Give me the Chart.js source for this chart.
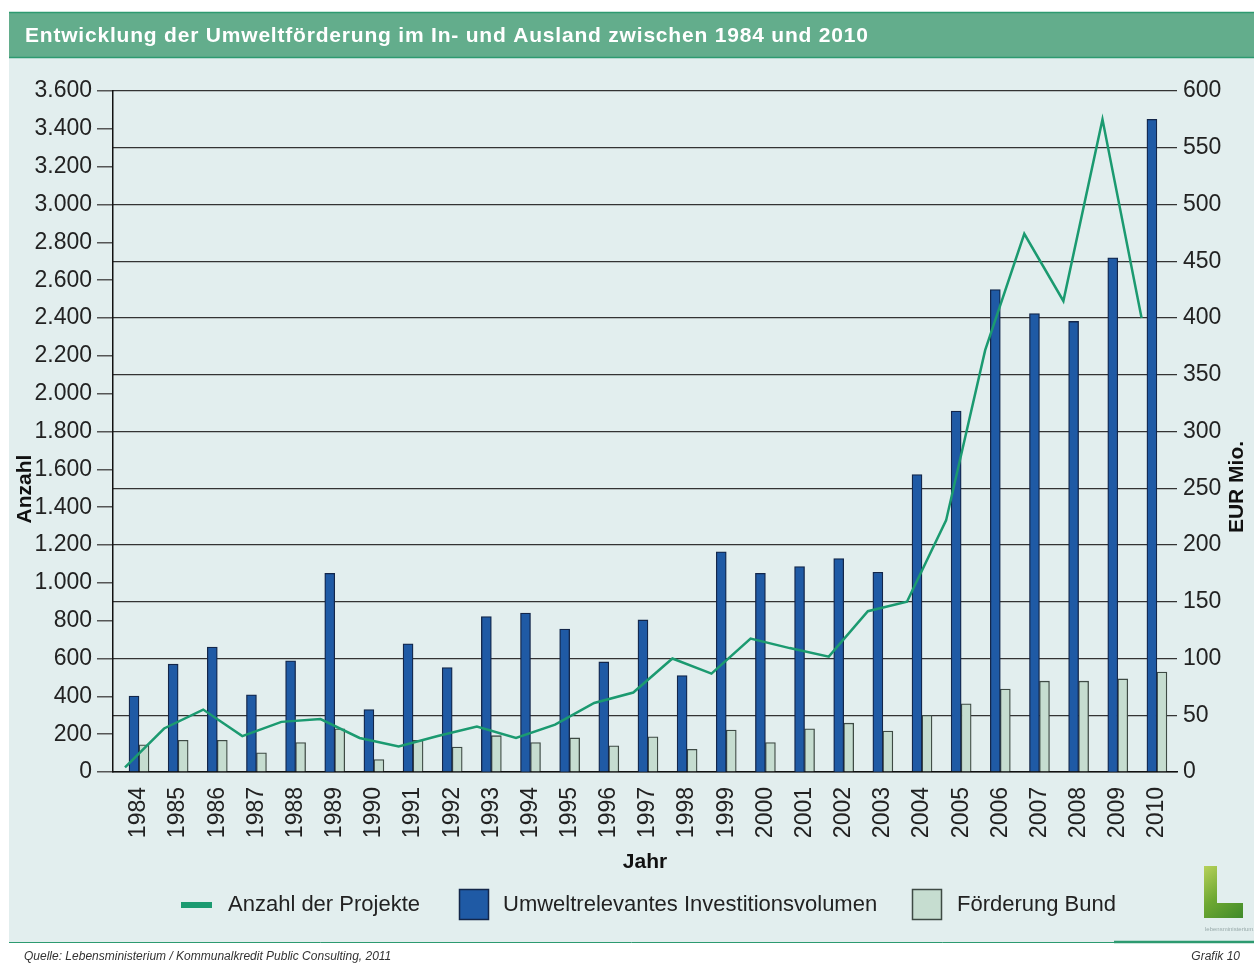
<!DOCTYPE html>
<html>
<head>
<meta charset="utf-8">
<script src="https://cdn.jsdelivr.net/npm/chart.js@4/dist/chart.umd.min.js"></script>
<style>
  html, body { margin: 0; padding: 0; background: #ffffff; }
  #c { display: block; }
</style>
</head>
<body>
<canvas id="c" width="1254" height="963"></canvas>
<script>
// ---- Data ----
const years = ['1984','1985','1986','1987','1988','1989','1990','1991','1992','1993','1994','1995','1996','1997','1998','1999','2000','2001','2002','2003','2004','2005','2006','2007','2008','2009','2010'];
// Anzahl der Projekte (left axis)
const projekte = [25, 230, 330, 190, 265, 280, 180, 135, 190, 240, 180, 250, 365, 420, 600, 520, 705, 655, 610, 850, 900, 1330, 2230, 2845, 2490, 3450, 2400];
// Umweltrelevantes Investitionsvolumen, EUR Mio. (right axis)
const investition = [67, 95, 110, 68, 98, 175, 55, 113, 92, 137, 140, 126, 97, 134, 85, 194, 175, 181, 188, 176, 262, 318, 425, 404, 397, 453, 575];
// Förderung Bund, EUR Mio. (right axis)
const foerderung = [24, 28, 28, 17, 26, 38, 11, 28, 22, 32, 26, 30, 23, 31, 20, 37, 26, 38, 43, 36, 50, 60, 73, 80, 80, 82, 88];

const leftTicks = { min: 0, max: 3600, step: 200 };
const rightTicks = { min: 0, max: 600, step: 50 };

const titleText = 'Entwicklung der Umweltförderung im In- und Ausland zwischen 1984 und 2010';
const labelLine = 'Anzahl der Projekte';
const labelInv = 'Umweltrelevantes Investitionsvolumen';
const labelFoe = 'Förderung Bund';
const sourceText = 'Quelle: Lebensministerium / Kommunalkredit Public Consulting, 2011';
const grafikText = 'Grafik 10';

// ---- Styles ----
const FONT = '"Liberation Sans", Arial, Helvetica, sans-serif';
const C_LINE = '#1b9a70';
const C_BLUE = '#1f5aa5';
const C_BLUE_B = '#13264a';
const C_LGREEN = '#c6ddd0';
const C_LGREEN_B = '#3e4a44';
const C_PANEL = '#e2eeee';
const C_TITLE = '#63ad8c';
const C_TEXT = '#222222';

const pts = (arr) => arr.map((v, i) => ({ x: i, y: v }));
const fmtDE = (v) => String(v).replace(/\B(?=(\d{3})+(?!\d))/g, '.');

const decor = {
  id: 'decor',
  beforeDraw(chart) {
    const ctx = chart.ctx;
    ctx.save();
    ctx.fillStyle = '#ffffff';
    ctx.fillRect(0, 0, chart.width, chart.height);
    // panel
    ctx.fillStyle = C_PANEL;
    ctx.fillRect(9, 58, 1245, 884);
    // title bar
    ctx.fillStyle = C_TITLE;
    ctx.fillRect(9, 12, 1245, 46);
    ctx.strokeStyle = '#2d9a70';
    ctx.lineWidth = 1.5;
    ctx.beginPath();
    ctx.moveTo(9, 12.5); ctx.lineTo(1254, 12.5);
    ctx.moveTo(9, 57.5); ctx.lineTo(1254, 57.5);
    ctx.stroke();
    ctx.fillStyle = '#ffffff';
    ctx.font = 'bold 21px ' + FONT;
    try { ctx.letterSpacing = '0.8px'; } catch (e) {}
    ctx.textBaseline = 'middle';
    ctx.textAlign = 'left';
    ctx.fillText(titleText, 25, 36);
    try { ctx.letterSpacing = '0px'; } catch (e) {}
    ctx.restore();
  },
  afterDraw(chart) {
    const ctx = chart.ctx;
    ctx.save();
    ctx.fillStyle = '#111';
    ctx.font = 'bold 21px ' + FONT;
    ctx.textAlign = 'center';
    ctx.textBaseline = 'middle';
    // left axis title
    ctx.save();
    ctx.translate(25, 489);
    ctx.rotate(-Math.PI / 2);
    ctx.fillText('Anzahl', 0, 0);
    ctx.restore();
    // right axis title
    ctx.save();
    ctx.translate(1237, 487);
    ctx.rotate(-Math.PI / 2);
    ctx.fillText('EUR Mio.', 0, 0);
    ctx.restore();
    // x title
    ctx.fillText('Jahr', 645, 862);

    // legend
    ctx.font = '22px ' + FONT;
    ctx.textAlign = 'left';
    ctx.fillStyle = C_TEXT;
    const ly = 905;
    ctx.strokeStyle = C_LINE;
    ctx.lineWidth = 6;
    ctx.beginPath();
    ctx.moveTo(181, ly); ctx.lineTo(212, ly);
    ctx.stroke();
    ctx.fillText(labelLine, 228, ly);
    ctx.fillStyle = C_BLUE;
    ctx.fillRect(459, 889, 30, 31);
    ctx.strokeStyle = C_BLUE_B; ctx.lineWidth = 1.5;
    ctx.strokeRect(459.5, 889.5, 29, 30);
    ctx.fillStyle = C_TEXT;
    ctx.fillText(labelInv, 503, ly);
    ctx.fillStyle = C_LGREEN;
    ctx.fillRect(912, 889, 30, 31);
    ctx.strokeStyle = C_LGREEN_B; ctx.lineWidth = 1.5;
    ctx.strokeRect(912.5, 889.5, 29, 30);
    ctx.fillStyle = C_TEXT;
    ctx.fillText(labelFoe, 957, ly);

    // logo (approximate)
    const g = ctx.createLinearGradient(1203, 866, 1243, 918);
    g.addColorStop(0, '#b8d25a');
    g.addColorStop(0.5, '#6ea832');
    g.addColorStop(1, '#3f8a2a');
    ctx.fillStyle = g;
    ctx.fillRect(1204, 866, 13, 52);
    ctx.fillRect(1204, 903, 39, 15);
    ctx.fillStyle = '#9aa';
    ctx.font = '6px ' + FONT;
    ctx.fillText('lebensministerium.at', 1205, 929);

    // footer line
    ctx.strokeStyle = '#2d9a70';
    ctx.lineWidth = 1;
    ctx.beginPath();
    ctx.moveTo(9, 942.5); ctx.lineTo(1254, 942.5);
    ctx.stroke();
    ctx.lineWidth = 2.5;
    ctx.beginPath();
    ctx.moveTo(1114, 942); ctx.lineTo(1254, 942);
    ctx.stroke();

    ctx.fillStyle = '#333';
    ctx.font = 'italic 12px ' + FONT;
    ctx.textBaseline = 'middle';
    ctx.fillText(sourceText, 24, 957);
    ctx.textAlign = 'right';
    ctx.fillText(grafikText, 1240, 957);
    ctx.restore();
  }
};

new Chart(document.getElementById('c'), {
  type: 'bar',
  data: {
    datasets: [
      {
        type: 'line',
        label: labelLine,
        data: pts(projekte),
        xAxisID: 'x2',
        yAxisID: 'yL',
        borderColor: C_LINE,
        borderWidth: 2.5,
        pointRadius: 0,
        tension: 0,
        fill: false,
        order: 0
      },
      {
        label: labelInv,
        data: pts(investition),
        xAxisID: 'x',
        yAxisID: 'yR',
        backgroundColor: C_BLUE,
        borderColor: C_BLUE_B,
        borderWidth: 1.3,
        barThickness: 10,
        order: 1
      },
      {
        label: labelFoe,
        data: pts(foerderung),
        xAxisID: 'x',
        yAxisID: 'yR',
        backgroundColor: C_LGREEN,
        borderColor: C_LGREEN_B,
        borderWidth: 1.3,
        barThickness: 10,
        order: 1
      }
    ]
  },
  options: {
    responsive: false,
    animation: false,
    devicePixelRatio: 1,
    layout: { padding: { left: 0, right: 0, top: 91, bottom: 111 } },
    plugins: {
      legend: { display: false },
      tooltip: { enabled: false },
      title: { display: false }
    },
    scales: {
      x: {
        type: 'linear',
        position: 'bottom',
        min: -0.664,
        max: 26.513,
        offset: false,
        grid: { display: false, drawTicks: false },
        border: { display: true, color: '#111', width: 1.5 },
        afterBuildTicks: (s) => { s.ticks = years.map((_, i) => ({ value: i })); },
        afterFit: (s) => { s.height = 80; },
        ticks: {
          autoSkip: false,
          minRotation: 90,
          maxRotation: 90,
          padding: 15,
          color: C_TEXT,
          font: { family: FONT, size: 23 },
          callback: (v) => years[v]
        }
      },
      x2: {
        type: 'linear',
        position: 'top',
        display: true,
        min: -0.307,
        max: 26.906,
        offset: false,
        grid: { display: false, drawTicks: false },
        border: { display: false },
        ticks: { display: false },
        afterFit: (s) => { s.height = 0; }
      },
      yL: {
        type: 'linear',
        position: 'left',
        min: leftTicks.min,
        max: leftTicks.max,
        afterFit: (s) => { s.width = 113; },
        grid: { drawOnChartArea: false, drawTicks: true, tickLength: 16, color: '#555', lineWidth: 1.5 },
        border: { display: true, color: '#111', width: 1.5 },
        ticks: {
          stepSize: leftTicks.step,
          padding: 5,
          color: C_TEXT,
          font: { family: FONT, size: 23 },
          callback: (v) => fmtDE(v)
        }
      },
      yR: {
        type: 'linear',
        position: 'right',
        min: rightTicks.min,
        max: rightTicks.max,
        afterFit: (s) => { s.width = 77; },
        grid: { drawOnChartArea: true, drawTicks: false, color: '#333', lineWidth: 1.3 },
        border: { display: false },
        ticks: {
          stepSize: rightTicks.step,
          padding: 6,
          color: C_TEXT,
          font: { family: FONT, size: 23 },
          callback: (v) => fmtDE(v)
        }
      }
    }
  },
  plugins: [decor]
});
</script>
</body>
</html>
